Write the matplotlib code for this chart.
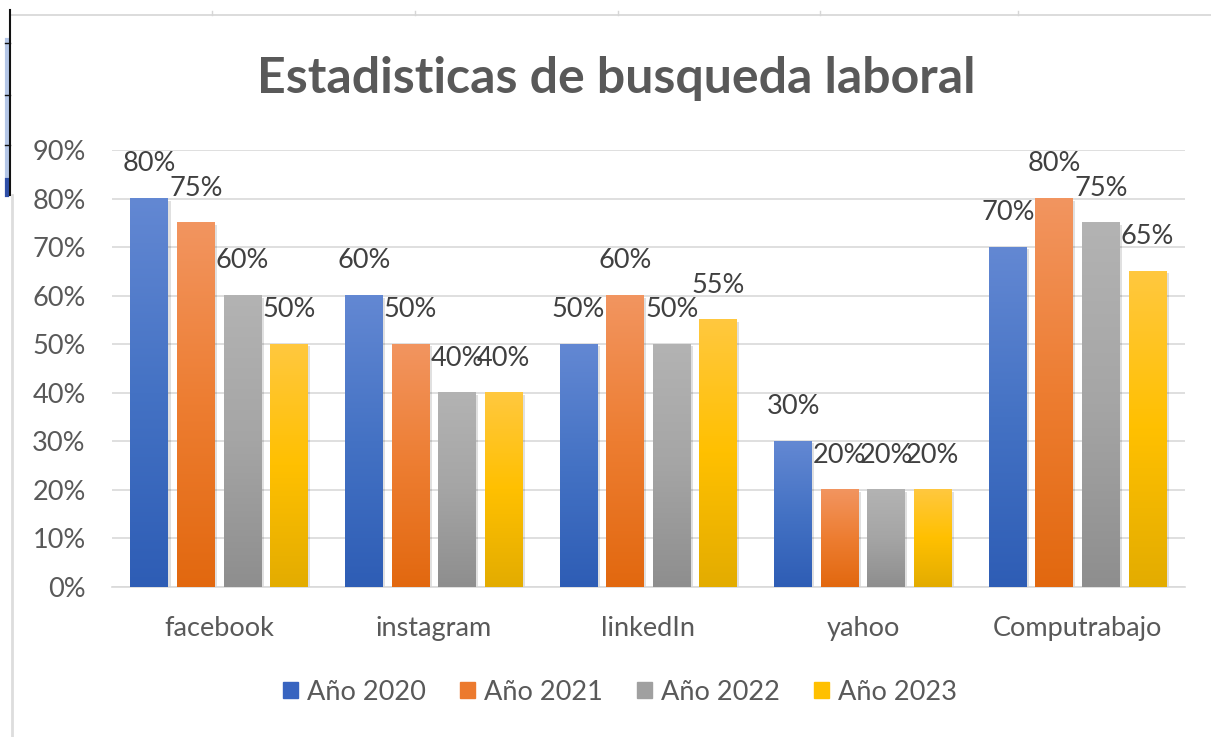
import matplotlib
matplotlib.use("Agg")
import matplotlib.pyplot as plt
import numpy as np
from matplotlib.colors import LinearSegmentedColormap
from matplotlib.lines import Line2D
import matplotlib.patheffects as pe

categories = ["facebook", "instagram", "linkedIn", "yahoo", "Computrabajo"]
series_names = ["Año 2020", "Año 2021", "Año 2022", "Año 2023"]
y2020 = [0.80, 0.60, 0.50, 0.30, 0.70]
y2021 = [0.75, 0.50, 0.60, 0.20, 0.80]
y2022 = [0.60, 0.40, 0.50, 0.20, 0.75]
y2023 = [0.50, 0.40, 0.55, 0.20, 0.65]
yticks = [0, 0.1, 0.2, 0.3, 0.4, 0.5, 0.6, 0.7, 0.8, 0.9]
title = "Estadisticas de busqueda laboral"

series = [y2020, y2021, y2022, y2023]
# (top, middle, bottom) gradient colours
grads = [
    ("#6388D3", "#4472C4", "#2E5DB5"),
    ("#F29560", "#ED7D31", "#E2680F"),
    ("#B3B3B3", "#A5A5A5", "#8E8E8E"),
    ("#FFC83F", "#FFC000", "#E3AC00"),
]
legend_cols = ["#3864C0", "#EC7A2E", "#A0A0A0", "#FFC000"]

FONT = "Lato"
TXT = "#595959"
FS = 19.5

fig = plt.figure(figsize=(12.11, 7.37), dpi=100)
fig.patch.set_facecolor("white")
ax = fig.add_axes([0.0925, 0.2035, 0.8860, 0.5930])

n = len(series)
pitch = 0.217
width = 0.177
x = np.arange(len(categories))
handles = []
for i, (vals, g) in enumerate(zip(series, grads)):
    offs = (i - (n - 1) / 2) * pitch
    bars = ax.bar(x + offs, vals, width, color=g[1], zorder=2, linewidth=0,
                  path_effects=[pe.SimplePatchShadow(offset=(1.5, -1.5), shadow_rgbFace="#000000", alpha=0.12),
                                pe.Normal()])
    cmap = LinearSegmentedColormap.from_list(f"g{i}", [g[2], g[1], g[0]])
    grad = np.linspace(0, 1, 256).reshape(-1, 1)
    for b, v in zip(bars, vals):
        x0 = b.get_x()
        ax.imshow(grad, extent=[x0, x0 + b.get_width(), 0, b.get_height()],
                  origin="lower", aspect="auto", cmap=cmap, zorder=3,
                  interpolation="bilinear")
        ax.annotate(f"{v*100:.0f}%", (x0 + b.get_width() / 2, v),
                    xytext=(0, 25), textcoords="offset points",
                    ha="center", va="center", fontsize=FS, color="#404040",
                    family=FONT, zorder=5)
    handles.append(plt.Rectangle((0, 0), 1, 1, color=legend_cols[i]))

ax.set_xlim(-0.5, len(categories) - 0.5)
ax.set_ylim(0, 0.9)
ax.set_yticks(yticks)
ax.set_yticklabels([f"{t*100:.0f}%" for t in yticks], family=FONT, fontsize=FS, color=TXT)
ax.set_xticks(x)
ax.set_xticklabels(categories, family=FONT, fontsize=FS, color=TXT)
ax.tick_params(axis="y", length=0, pad=19)
ax.tick_params(axis="x", length=0, pad=21)
ax.grid(axis="y", color="#D9D9D9", linewidth=1.2, zorder=0)
ax.set_axisbelow(True)
for s in ["top", "right", "left"]:
    ax.spines[s].set_visible(False)
ax.spines["bottom"].set_color("#D9D9D9")
ax.spines["bottom"].set_linewidth(1.2)
ax.set_aspect("auto")

fig.text(0.509, 0.894, title, ha="center", va="center", fontsize=36,
         fontweight="bold", color=TXT, family=FONT)

fig.legend(handles, series_names, loc="center", bbox_to_anchor=(0.512, 0.0610),
           ncol=4, frameon=False, handlelength=0.55, handleheight=0.55,
           handletextpad=0.35, columnspacing=1.25,
           prop={"family": FONT, "size": FS}, labelcolor=TXT)

# screenshot frame artifacts
H, W = 737.0, 1211.0
fig.add_artist(Line2D([10 / W, 1.0], [1 - 15 / H, 1 - 15 / H], color="#D6D6D6", lw=1.2))
for tx in [212, 415, 618, 820, 1018]:
    fig.add_artist(Line2D([tx / W, tx / W], [1 - 15 / H, 1 - 11 / H], color="#D6D6D6", lw=1))
fig.add_artist(Line2D([7 / W, 7 / W], [1 - 195 / H, 1 - 40 / H], color="#B4C6E7", lw=3))
fig.add_artist(Line2D([7 / W, 7 / W], [1 - 195 / H, 1 - 180 / H], color="#2F4FA8", lw=3))
fig.add_artist(Line2D([10 / W, 10 / W], [1 - 195 / H, 1 - 10 / H], color="#111111", lw=1.5))
fig.add_artist(Line2D([12 / W, 12 / W], [0, 1 - 195 / H], color="#DDDDDD", lw=2))
for ty in [43, 95, 145]:
    fig.add_artist(Line2D([5 / W, 10 / W], [1 - ty / H, 1 - ty / H], color="#111111", lw=1))

fig.savefig("out.png", dpi=100, facecolor="white")
